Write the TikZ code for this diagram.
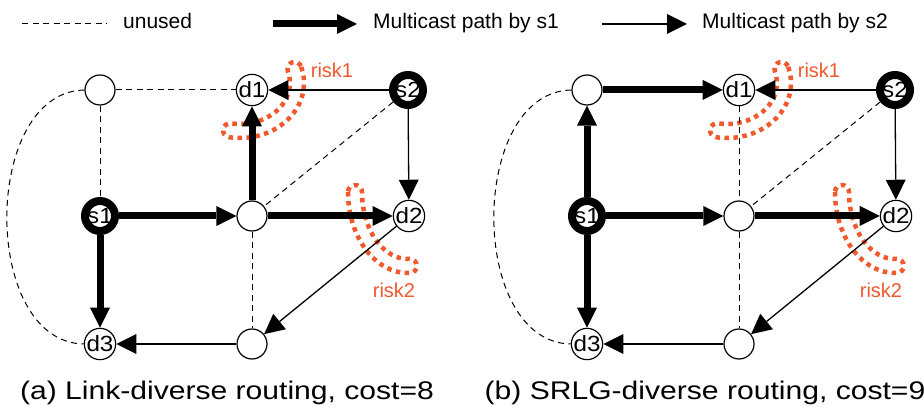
\documentclass[tikz,border=0pt]{standalone}
\usepackage{fontspec}
\setmainfont{Liberation Sans}
\newfontfamily\capfamily[FakeStretch=1.18]{Liberation Sans}
\newfontfamily\ndfamily[FakeStretch=1.1]{Liberation Sans}
\usetikzlibrary{arrows.meta}
\definecolor{riskred}{RGB}{240,88,45}
\newcommand\nodefs{\ndfamily\fontsize{22pt}{24pt}\selectfont}
\newcommand\legfs{\fontsize{21pt}{24pt}\selectfont}
\newcommand\riskfs{\fontsize{20pt}{24pt}\selectfont}
\newcommand\capfs{\capfamily\fontsize{25.5pt}{30pt}\selectfont}
\newcommand\panel[2]{%
 \begin{scope}[xshift=#2pt]
  \node[nd] (#1tl) at (100,-90) {};
  \node[nd] (#1d1) at (252,-90) {d1};
  \node[src] (#1s2) at (408,-90) {s2};
  \node[src] (#1s1) at (100,-216) {s1};
  \node[nd] (#1m) at (252,-216) {};
  \node[nd] (#1d2) at (409,-216) {d2};
  \node[nd] (#1d3) at (100,-344) {d3};
  \node[nd] (#1b) at (252,-344) {};
 \end{scope}
 \draw[riskband] ([shift={(-12,7)}]#1d1.center) ++(17:64 and 55)
   arc[start angle=17, end angle=-100, x radius=64, y radius=55]
   arc[start angle=-100, end angle=-280, radius=7]
   arc[start angle=-100, end angle=17, x radius=50, y radius=41]
   arc[start angle=197, end angle=17, radius=7] -- cycle;
 \draw[riskband] ([shift={(-1,24)}]#1d2.center) ++(180:60 and 81)
   arc[start angle=180, end angle=272, x radius=60, y radius=81]
   arc[start angle=272, end angle=452, radius=7]
   arc[start angle=272, end angle=180, x radius=46, y radius=67]
   arc[start angle=0, end angle=180, radius=7] -- cycle;
 \node[risklbl] (#1r1) at ([shift={(80,20)}]#1d1.center) {risk1};
 \node[risklbl] (#1r2) at ([shift={(-15,-74)}]#1d2.center) {risk2};
 \draw[unused] (#1tl.west) .. controls +(-103,-2) and +(-103,2) .. (#1d3.west);
 \draw[unused] (#1s2) -- (#1m);
 \draw[unused] (#1m) -- (#1b);
 \draw[thn] (#1s2) -- (#1d1);
 \draw[thn] (#1s2) -- (#1d2);
 \draw[thn] (#1d2) -- (#1b);
 \draw[thn] (#1b) -- (#1d3);
 \draw[thk] (#1s1) -- (#1m);
 \draw[thk] (#1m) -- (#1d2);
 \draw[thk] (#1s1) -- (#1d3);
}
\begin{document}
\begin{tikzpicture}[x=1pt,y=1pt,
 nd/.style={circle,draw,line width=1.2pt,minimum size=30pt,inner sep=0pt,fill=white,font=\nodefs},
 src/.style={nd,line width=8pt},
 thk/.style={line width=7pt,-{Triangle[length=20pt,width=20pt,line width=0pt]}},
 thn/.style={line width=1.3pt,-{Triangle[length=20pt,width=20pt,line width=0pt]}},
 unused/.style={line width=1pt,dash pattern=on 6pt off 4.5pt},
 riskband/.style={draw=riskred,line width=4.5pt,dash pattern=on 4.5pt off 4.5pt},
 risklbl/.style={text=riskred,font=\riskfs,inner sep=0pt},
 lbl/.style={anchor=base west,inner sep=0pt,font=\legfs},
 captxt/.style={anchor=base,inner sep=0pt,font=\capfs},
]
\fill[white] (0,0) rectangle (924,-411);
\useasboundingbox (0,0) rectangle (924,-411);
% legend
\coordinate (la1) at (22,-24); \coordinate (la2) at (107,-24);
\coordinate (lb1) at (273,-24); \coordinate (lb2) at (357,-24);
\coordinate (lc1) at (602,-24); \coordinate (lc2) at (687,-24);
\draw[unused] (la1) -- (la2);
\node[lbl] (lt1) at (123,-29) {unused};
\draw[thk] (lb1) -- (lb2);
\node[lbl] (lt2) at (373,-29) {Multicast path by s1};
\draw[thn] (lc1) -- (lc2);
\node[lbl] (lt3) at (702,-29) {Multicast path by s2};
% panel (a)
\panel{a}{0}
\draw[unused] (atl) -- (ad1);
\draw[unused] (atl) -- (as1);
\draw[thk] (am) -- (ad1);
\node[captxt] (capa) at (227,-400) {(a) Link-diverse routing, cost=8};
% panel (b)
\panel{b}{487}
\draw[thk] (bs1) -- (btl);
\draw[thk] (btl) -- (bd1);
\draw[unused] (bd1) -- (bm);
\node[captxt] (capb) at (705,-400) {(b) SRLG-diverse routing, cost=9};
\end{tikzpicture}
\end{document}
